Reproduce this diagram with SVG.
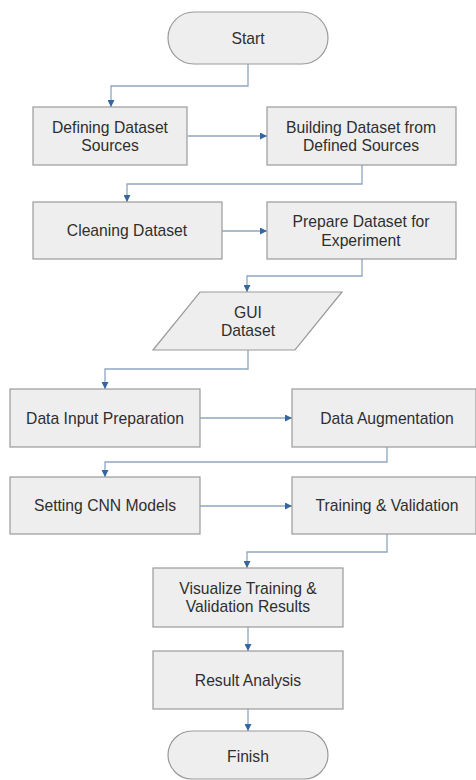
<svg xmlns="http://www.w3.org/2000/svg" width="476" height="780" viewBox="0 0 476 780">
  <style>
    .shape { fill: #eeeeee; stroke: #9a9a9a; stroke-width: 1.2; }
    .label { font-family: "Liberation Sans", Arial, sans-serif; font-size: 15.7px; fill: #2e2e2e; text-anchor: middle; dominant-baseline: central; }
    .link { fill: none; stroke: #8ea6bd; stroke-width: 1.3; marker-end: url(#arrow); }
  </style>
  <defs>
    <marker id="arrow" viewBox="0 0 10 10" refX="10" refY="5" markerWidth="8" markerHeight="7" markerUnits="userSpaceOnUse" orient="auto">
      <path d="M0,0 L10,5 L0,10 z" fill="#3566a0"/>
    </marker>
  </defs>
  <rect width="476" height="780" fill="#ffffff"/>

  <!-- connectors -->
  <g id="connectors">
    <path class="link" d="M248,64 V86 H111 V107"/>
    <path class="link" d="M188,136 H267"/>
    <path class="link" d="M362,165 V184 H127 V202"/>
    <path class="link" d="M222,231 H267"/>
    <path class="link" d="M362,259 V276 H247 V292"/>
    <path class="link" d="M248,350 V369 H105 V389"/>
    <path class="link" d="M200,418 H292"/>
    <path class="link" d="M387,447 V462 H105 V477"/>
    <path class="link" d="M200,506 H292"/>
    <path class="link" d="M387,534 V552 H247 V568"/>
    <path class="link" d="M248,627 V651"/>
    <path class="link" d="M248,709 V731"/>
  </g>

  <!-- nodes -->
  <g id="start">
    <rect class="shape" x="168" y="12" width="160" height="52" rx="26" ry="26"/>
    <text class="label" x="248" y="38">Start</text>
  </g>
  <g id="define-sources">
    <rect class="shape" x="33" y="107" width="154" height="58"/>
    <text class="label" x="110" y="127">Defining Dataset</text>
    <text class="label" x="110" y="145">Sources</text>
  </g>
  <g id="build-dataset">
    <rect class="shape" x="267" y="107" width="189" height="58"/>
    <text class="label" x="361" y="127">Building Dataset from</text>
    <text class="label" x="361" y="145">Defined Sources</text>
  </g>
  <g id="clean-dataset">
    <rect class="shape" x="33" y="202" width="189" height="57"/>
    <text class="label" x="127" y="230">Cleaning Dataset</text>
  </g>
  <g id="prepare-dataset">
    <rect class="shape" x="267" y="202" width="189" height="57"/>
    <text class="label" x="361" y="221">Prepare Dataset for</text>
    <text class="label" x="361" y="240">Experiment</text>
  </g>
  <g id="gui-dataset">
    <polygon class="shape" points="200,292 342,292 295,350 153,350"/>
    <text class="label" x="248" y="312">GUI</text>
    <text class="label" x="248" y="330">Dataset</text>
  </g>
  <g id="input-preparation">
    <rect class="shape" x="10" y="389" width="190" height="58"/>
    <text class="label" x="105" y="418">Data Input Preparation</text>
  </g>
  <g id="augmentation">
    <rect class="shape" x="292" y="389" width="184" height="58"/>
    <text class="label" x="387" y="418">Data Augmentation</text>
  </g>
  <g id="cnn-models">
    <rect class="shape" x="10" y="477" width="190" height="57"/>
    <text class="label" x="105" y="505">Setting CNN Models</text>
  </g>
  <g id="training">
    <rect class="shape" x="292" y="477" width="184" height="57"/>
    <text class="label" x="387" y="505">Training &amp; Validation</text>
  </g>
  <g id="visualize">
    <rect class="shape" x="153" y="568" width="190" height="59"/>
    <text class="label" x="248" y="588">Visualize Training &amp;</text>
    <text class="label" x="248" y="606">Validation Results</text>
  </g>
  <g id="analysis">
    <rect class="shape" x="153" y="651" width="190" height="58"/>
    <text class="label" x="248" y="680">Result Analysis</text>
  </g>
  <g id="finish">
    <rect class="shape" x="168" y="731" width="160" height="48" rx="24" ry="24"/>
    <text class="label" x="248" y="756">Finish</text>
  </g>
</svg>
